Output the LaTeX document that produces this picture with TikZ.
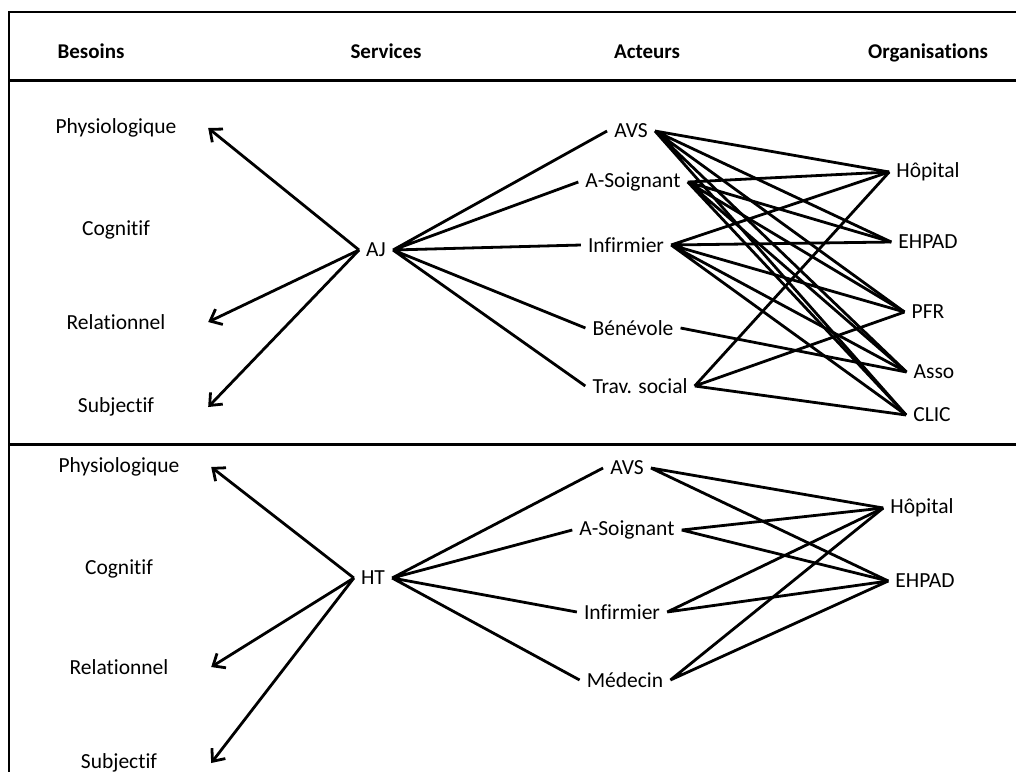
\documentclass[tikz,border=0pt]{standalone}
\usepackage{fontspec}
\setmainfont{Carlito}[Ligatures=NoCommon]
\usetikzlibrary{arrows.meta}

\begin{document}
\begin{tikzpicture}[x=1pt, y=-1pt,
  >={Straight Barb[length=10pt,width=17pt]},
  txt/.style={font=\fontsize{21.5}{24}\selectfont, inner sep=7pt},
  head/.style={font=\fontsize{21}{24}\selectfont\bfseries,
    text height=0.7em, text depth=0.2em},
  besoin/.style={txt, minimum width=184pt},
  lien/.style={line width=2.8pt},
  cadre/.style={line width=2.2pt}]

  \useasboundingbox (0,0) rectangle (1016,772);

  \newcommand\YHEAD{56}

  % frame
  \draw[cadre] (1016,12) -- (9,12) -- (9,772);
  \draw[cadre, line width=3pt] (9,80) -- (1016,80);
  \draw[cadre, line width=3pt] (9,444) -- (1016,444);

  % column heads
  \node[head] (hbes) at (91,\YHEAD) {Besoins};
  \node[head] (hser) at (386,\YHEAD) {Services};
  \node[head] (hact) at (647,\YHEAD) {Acteurs};
  \node[head] (horg) at (928,\YHEAD) {Organisations};

  % ---- AJ ----
  \node[besoin] (tb1) at (116,128) {Physiologique};
  \node[besoin] (tb2) at (116,230) {Cognitif};
  \node[besoin] (tb3) at (116,322) {Relationnel};
  \node[besoin] (tb4) at (116,407) {Subjectif};

  \node[txt] (aj) at (376,250) {AJ};

  \node[txt] (ta1) at (631,131) {AVS};
  \node[txt] (ta2) at (633,182) {A-Soignant};
  \node[txt] (ta3) at (626,245) {Infirmier};
  \node[txt] (ta4) at (633,328) {Bénévole};
  \node[txt] (ta5) at (640,386) {Trav. social};

  \node[txt] (to1) at (928,172) {Hôpital};
  \node[txt] (to2) at (928,242) {EHPAD};
  \node[txt] (to3) at (928,312) {PFR};
  \node[txt] (to4) at (934,372) {Asso};
  \node[txt] (to5) at (932,415) {CLIC};

  \draw[lien, ->] (aj.west) -- (tb1.east);
  \draw[lien, ->] (aj.west) -- (tb3.east);
  \draw[lien, ->] (aj.west) -- (tb4.east);

  \draw[lien] (aj.east) -- (ta1.west) (aj.east) -- (ta2.west)
    (aj.east) -- (ta3.west) (aj.east) -- (ta4.west) (aj.east) -- (ta5.west);

  \draw[lien] (ta1.east) -- (to1.west) (ta1.east) -- (to2.west)
    (ta1.east) -- (to3.west) (ta1.east) -- (to4.west) (ta1.east) -- (to5.west);
  \draw[lien] (ta2.east) -- (to1.west) (ta2.east) -- (to2.west)
    (ta2.east) -- (to3.west) (ta2.east) -- (to4.west) (ta2.east) -- (to5.west);
  \draw[lien] (ta3.east) -- (to1.west) (ta3.east) -- (to2.west)
    (ta3.east) -- (to3.west) (ta3.east) -- (to4.west) (ta3.east) -- (to5.west);
  \draw[lien] (ta4.east) -- (to4.west);
  \draw[lien] (ta5.east) -- (to1.west) (ta5.east) -- (to3.west)
    (ta5.east) -- (to5.west);

  % ---- HT ----
  \node[besoin] (bb1) at (119,467) {Physiologique};
  \node[besoin] (bb2) at (119,569) {Cognitif};
  \node[besoin] (bb3) at (119,667) {Relationnel};
  \node[besoin] (bb4) at (119,763) {Subjectif};

  \node[txt] (ht) at (373,578) {HT};

  \node[txt] (ba1) at (627,468) {AVS};
  \node[txt] (ba2) at (627,530) {A-Soignant};
  \node[txt] (ba3) at (622,612) {Infirmier};
  \node[txt] (ba4) at (625,680) {Médecin};

  \node[txt] (bo1) at (922,508) {Hôpital};
  \node[txt] (bo2) at (925,581) {EHPAD};

  \draw[lien, ->] (ht.west) -- (bb1.east);
  \draw[lien, ->] (ht.west) -- (bb3.east);
  \draw[lien, ->] (ht.west) -- (bb4.east);

  \draw[lien] (ht.east) -- (ba1.west) (ht.east) -- (ba2.west)
    (ht.east) -- (ba3.west) (ht.east) -- (ba4.west);

  \draw[lien] (ba1.east) -- (bo1.west) (ba1.east) -- (bo2.west);
  \draw[lien] (ba2.east) -- (bo1.west) (ba2.east) -- (bo2.west);
  \draw[lien] (ba3.east) -- (bo1.west) (ba3.east) -- (bo2.west);
  \draw[lien] (ba4.east) -- (bo1.west) (ba4.east) -- (bo2.west);

\end{tikzpicture}
\end{document}
